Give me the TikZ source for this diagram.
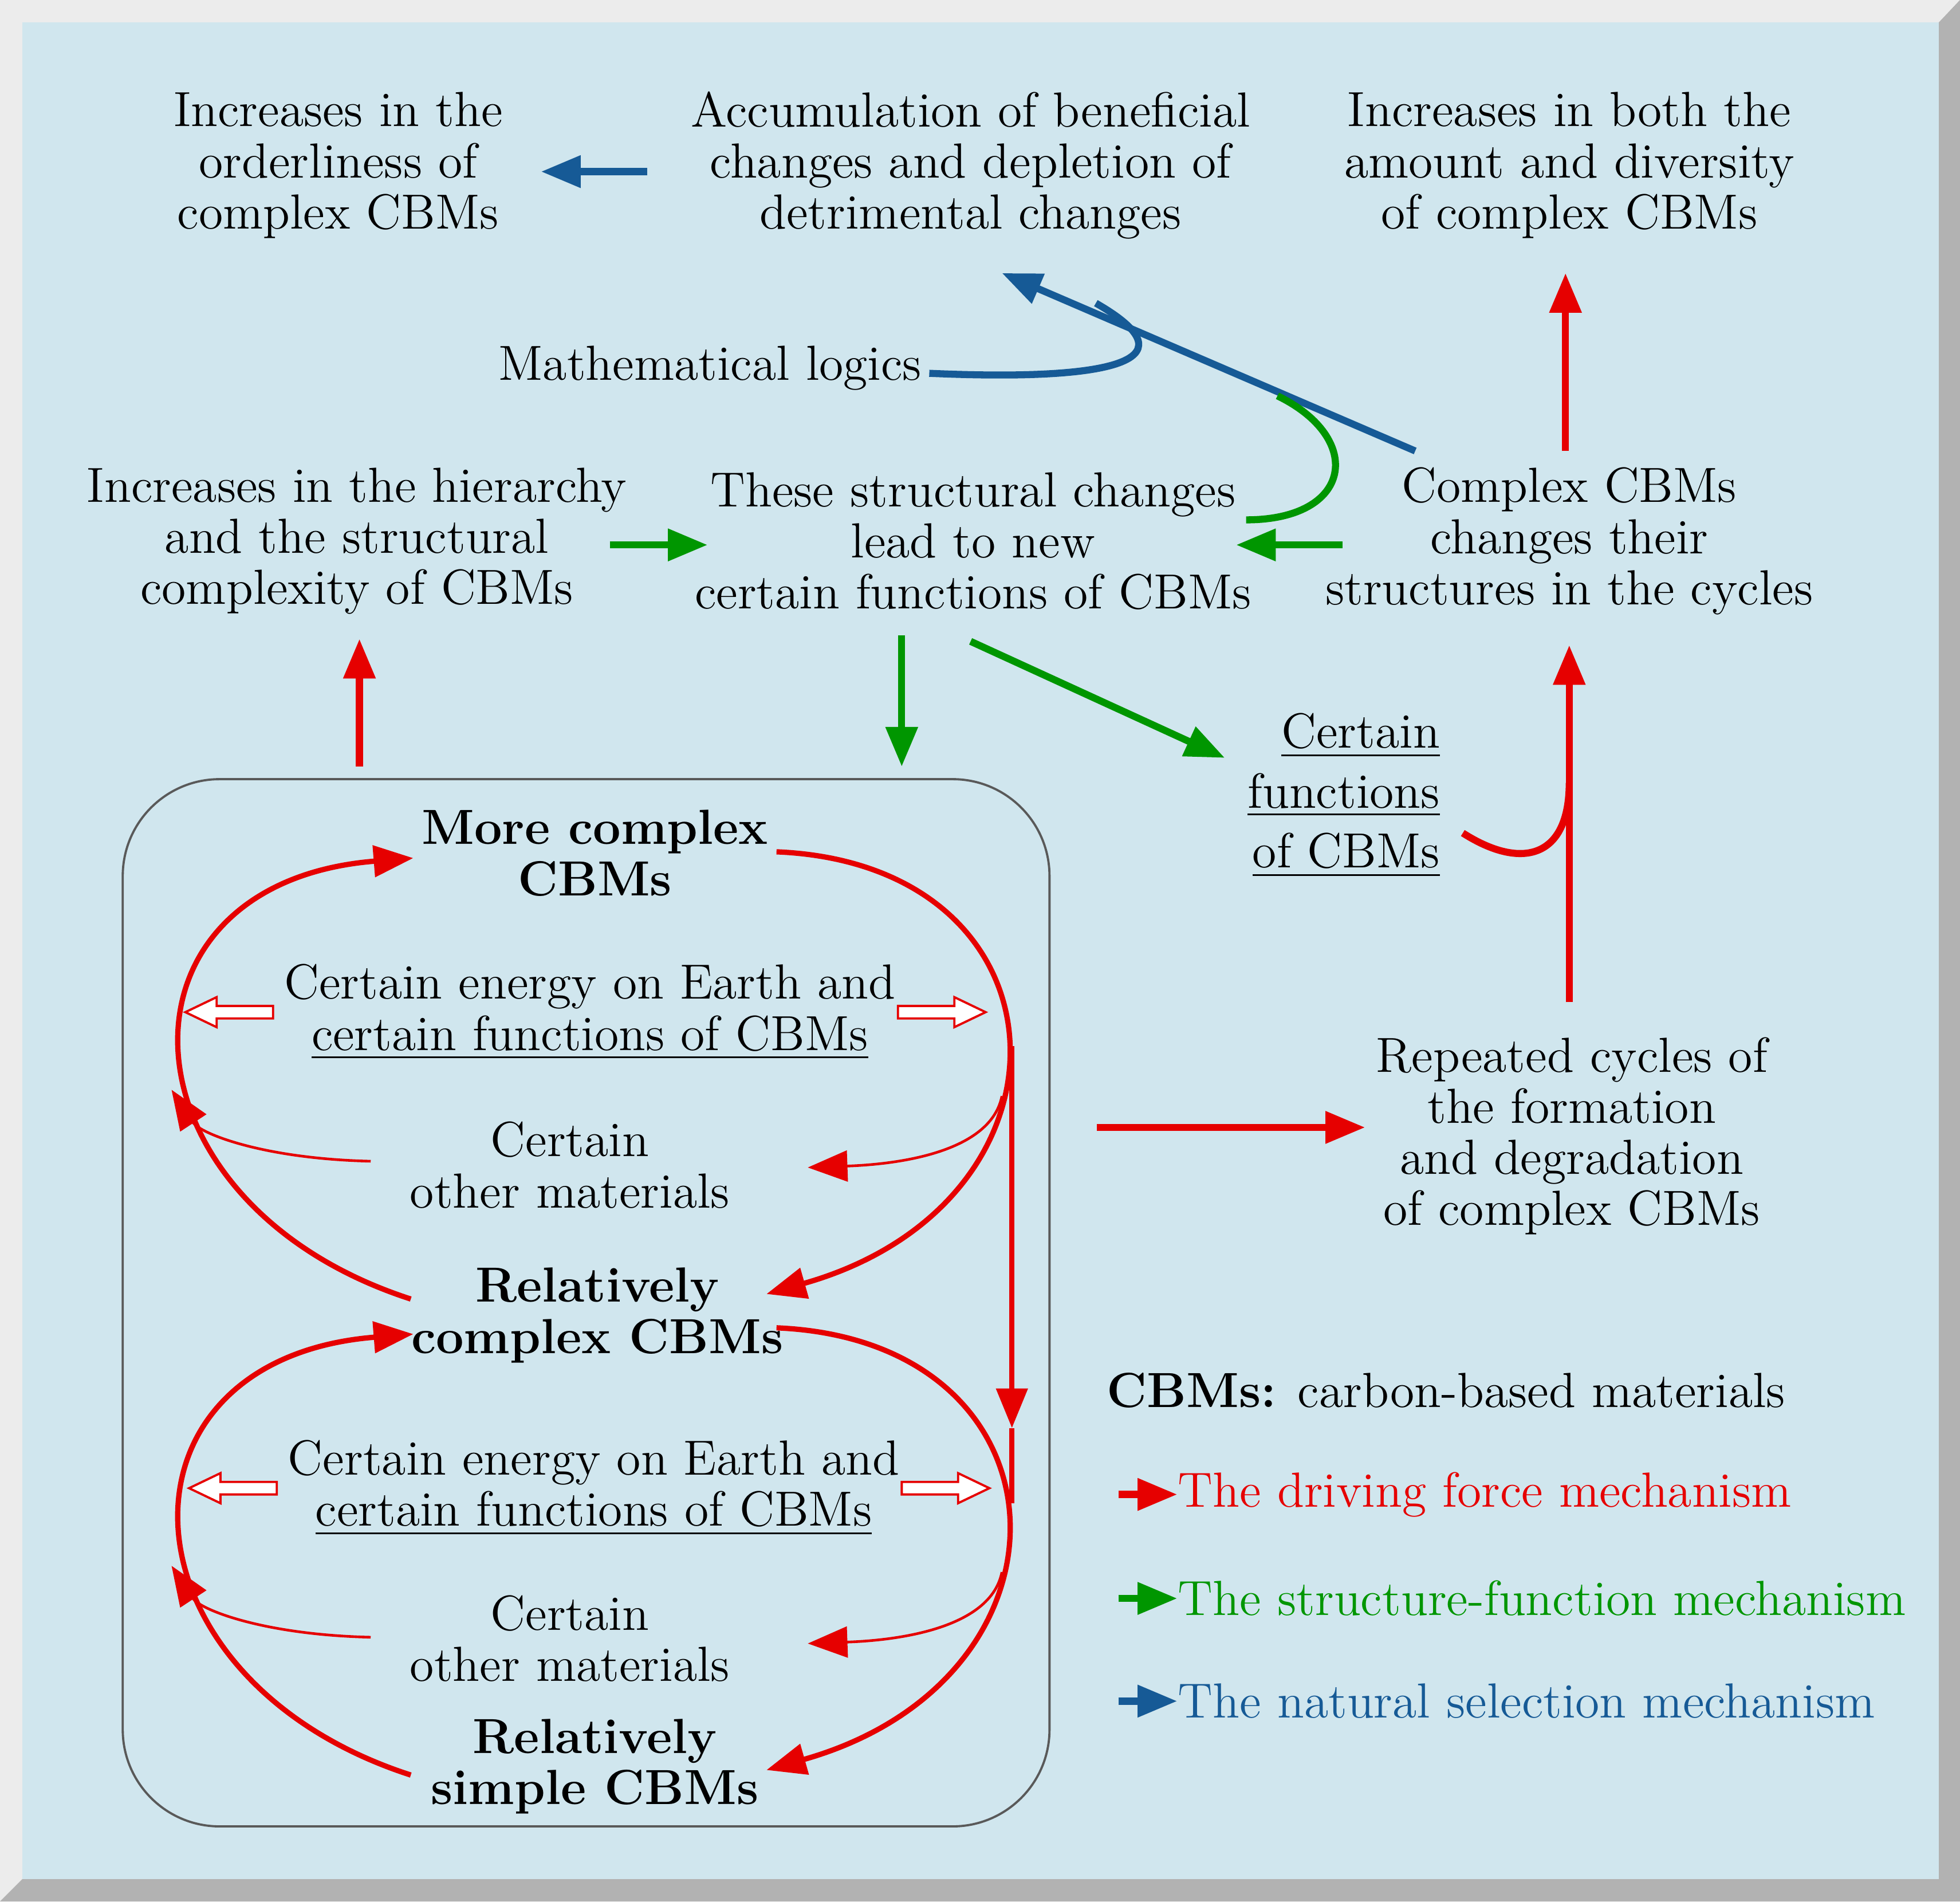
\documentclass[tikz,border=0pt]{standalone}
\usetikzlibrary{arrows.meta}
\definecolor{bg}{RGB}{208,230,238}
\definecolor{rd}{RGB}{230,0,0}
\definecolor{gn}{RGB}{0,150,0}
\definecolor{bl}{RGB}{22,90,150}
\newcommand{\hollowR}[2]{\draw[rd,fill=white,line width=0.5pt] (#1,#2-5)--(#1+45,#2-5)--(#1+45,#2-12)--(#1+70,#2)--(#1+45,#2+12)--(#1+45,#2+5)--(#1,#2+5)--cycle;}
\newcommand{\hollowL}[2]{\draw[rd,fill=white,line width=0.5pt] (#1,#2-5)--(#1-45,#2-5)--(#1-45,#2-12)--(#1-70,#2)--(#1-45,#2+12)--(#1-45,#2+5)--(#1,#2+5)--cycle;}
\begin{document}
\begin{tikzpicture}[x=0.01cm,y=-0.01cm,
 txt/.style={align=center,font=\fontsize{11.2}{11.6}\selectfont,inner sep=0pt},
 bt/.style={txt,font=\fontsize{11.2}{11.6}\selectfont\bfseries},
 arr/.style={line width=1.6pt,-{Triangle[length=9pt,width=7pt]}},
 thin/.style={rd,line width=0.6pt,-{Triangle[length=9pt,width=7pt]}},
 R/.style={arr,rd},G/.style={arr,gn},B/.style={arr,bl}]
\useasboundingbox (0,0) rectangle (1565,1518);
\fill[gray!40] (0,0) rectangle (1565,1518);
\fill[gray!15] (0,0)--(1565,0)--(1548,18)--(18,18)--(18,1500)--(0,1518)--cycle;
\fill[gray!60] (1565,1518)--(1565,0)--(1548,18)--(1548,1500)--(18,1500)--(0,1518)--cycle;
\fill[bg] (18,18) rectangle (1548,1500);
\draw[gray!70!black,line width=0.5pt,rounded corners=22] (98,622) rectangle (838,1458);

\node[txt] (orderl) at (270,132) {Increases in the\\orderliness of\\complex CBMs};
\node[txt] (accum) at (775,132) {Accumulation of beneficial\\changes and depletion of\\detrimental changes};
\node[txt] (amount) at (1253,132) {Increases in both the\\amount and diversity\\of complex CBMs};
\node[txt] (math) at (567,294) {Mathematical logics};
\node[txt] (hier) at (285,432) {Increases in the hierarchy\\and the structural\\complexity of CBMs};
\node[txt] (struct) at (777,432) {These structural changes\\lead to new\\certain functions of CBMs};
\node[txt] (cplx) at (1253,432) {Complex CBMs\\changes their\\structures in the cycles};
\node[txt,align=right] (cfun) at (1073,635) {\underline{Certain}\\[2pt]\underline{functions}\\[2pt]\underline{of CBMs}};
\node[bt] (more) at (475,681) {More complex\\CBMs};
\node[txt] (en1) at (471,808) {Certain energy on Earth and\\\underline{certain functions of CBMs}};
\node[txt] (oth1) at (455,930) {Certain\\other materials};
\node[bt] (relc) at (477,1050) {Relatively\\complex CBMs};
\node[txt] (en2) at (474,1188) {Certain energy on Earth and\\\underline{certain functions of CBMs}};
\node[txt] (oth2) at (455,1308) {Certain\\other materials};
\node[bt] (rels) at (475,1410) {Relatively\\simple CBMs};
\node[txt] (rep) at (1255,907) {Repeated cycles of\\the formation\\and degradation\\of complex CBMs};
\node[txt,anchor=west] (leg) at (883,1110) {\textbf{CBMs:} carbon-based materials};
\node[txt,anchor=west,text=rd] (l1) at (940,1193) {The driving force mechanism};
\node[txt,anchor=west,text=gn] (l2) at (940,1276) {The structure-function mechanism};
\node[txt,anchor=west,text=bl] (l3) at (940,1358) {The natural selection mechanism};
\draw[R] (893,1193)--(l1.west);
\draw[G] (893,1276)--(l2.west);
\draw[B] (893,1358)--(l3.west);

% blue
\draw[B] (517,137)--(432,137);
\draw[B] (1130,360)--(800,218);
\draw[bl,line width=1.6pt] (742,298) .. controls (900,305) and (950,285) .. (875,242);
% green
\draw[gn,line width=1.6pt] (1020,316) .. controls (1090,350) and (1080,415) .. (995,415);
\draw[G] (1072,435)--(987,435);
\draw[G] (487,435)--(565,435);
\draw[G] (720,507)--(720,612);
\draw[G] (775,512)--(978,605);
% red outer
\draw[R] (1250,360)--(1250,218);
\draw[R] (287,612)--(287,510);
\draw[R] (1253,800)--(1253,515);
\draw[rd,line width=1.6pt] (1168,665) .. controls (1215,695) and (1253,685) .. (1253,625);
\draw[R] (876,900)--(1090,900);

% cycles
\foreach \dy in {0,380}{
 \begin{scope}[yshift=-\dy*0.01cm]
 \draw[R,line width=1.2pt] (328,1037) .. controls (90,960) and (80,705) .. (330,685);
 \draw[R,line width=1.2pt] (620,680) .. controls (860,690) and (870,960) .. (612,1033);
 \draw[thin] (296,927) .. controls (210,925) and (160,905) .. (137,870);
 \draw[thin] (800,875) .. controls (790,925) and (700,930) .. (645,932);
 \end{scope}}
\draw[R,line width=1.2pt] (808,835)--(808,1140);
\draw[rd,line width=1.2pt] (808,1140)--(808,1200);
\hollowL{218}{808}\hollowR{717}{808}
\hollowL{221}{1188}\hollowR{720}{1188}
\end{tikzpicture}
\end{document}
